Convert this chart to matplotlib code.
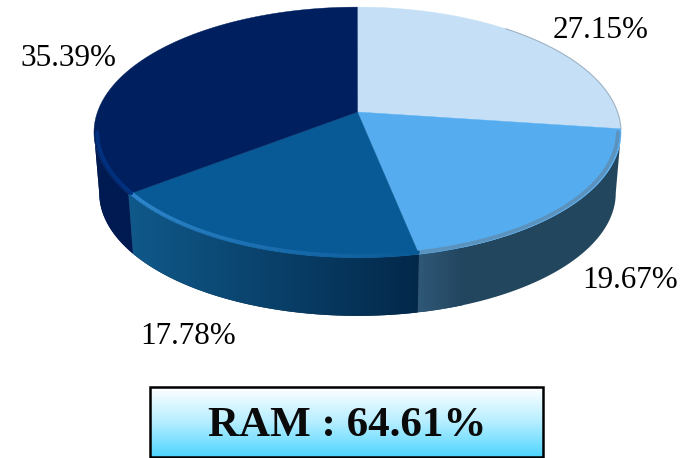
import matplotlib
matplotlib.use("Agg")
import matplotlib.pyplot as plt
import numpy as np
from matplotlib.collections import LineCollection
from matplotlib.colors import LinearSegmentedColormap
from matplotlib.patches import Polygon

percents = [27.15, 19.67, 17.78, 35.39]
labels = ["27.15%", "19.67%", "17.78%", "35.39%"]
top_colors = ["#C5E0F6", "#55ADF0", "#085A96", "#001F5E"]
# side gradients run left to right
side_colors = [("#23465F", "#23465F"), ("#2F5877", "#23465F"), ("#10598A", "#03284A"), ("#001A52", "#001A52")]
rim_colors = [("#8FB0C8", "#8FB0C8"), ("#5C93BE", "#5C93BE"), ("#2F86CC", "#085A96"), ("#00307E", "#00307E")]
ram_text = "RAM : 64.61%"

# pie geometry in pixels, the tilt gives a true perspective look
cx, cy = 357.5, 112
A, S, K = 260, 122, 0.163
DEPTH, SHRINK = 61, 0.98


def project(phi, scale=1.0):
    x = np.sin(phi) * scale
    y = np.cos(phi) * scale
    d = 1 + K * y
    return cx + A * x / d, cy - S * y / d


def arc(p1, p2, scale=1.0, n=120):
    phi = np.linspace(p1, p2, n)
    px, py = project(phi, scale)
    return np.column_stack([px, py])


def lower_arc(p1, p2, n=120):
    pts = arc(p1, p2, n=n)
    pts[:, 0] = cx + (pts[:, 0] - cx) * SHRINK
    pts[:, 1] = cy + DEPTH + (pts[:, 1] - cy) * SHRINK
    return pts


fig = plt.figure(figsize=(6.85, 4.58), dpi=100)
ax = fig.add_axes([0, 0, 1, 1])
ax.set_axis_off()

edges = np.radians(np.cumsum([0] + percents) * 3.6)
vis_lo = np.arccos(-K)
vis_hi = 2 * np.pi - vis_lo

# sides first
for i in range(4):
    p1 = max(edges[i], vis_lo)
    p2 = min(edges[i + 1], vis_hi)
    if p2 <= p1:
        continue
    up = arc(p1, p2)
    low = lower_arc(p1, p2)
    poly = Polygon(np.vstack([up, low[::-1]]), closed=True, fc=side_colors[i][1], ec="none", zorder=1)
    ax.add_patch(poly)
    xs = np.vstack([up, low])
    cmap = LinearSegmentedColormap.from_list("s", side_colors[i])
    grad = np.linspace(0, 1, 256).reshape(1, -1)
    l, r = xs[:, 0].min(), xs[:, 0].max()
    if i == 1:
        # only the part near the seam is lighter
        r = l + 45
    im = ax.imshow(grad, extent=(l, r, xs[:, 1].max(), xs[:, 1].min()), cmap=cmap, aspect="auto", zorder=2)
    im.set_clip_path(poly)

# top surface
for i in range(4):
    pts = np.vstack([[cx, cy], arc(edges[i], edges[i + 1])])
    ax.add_patch(Polygon(pts, closed=True, fc=top_colors[i], ec=top_colors[i], lw=0.3, zorder=3))

# bevel along the front rim
for i in range(4):
    p1 = max(edges[i], vis_lo)
    p2 = min(edges[i + 1], vis_hi)
    if p2 <= p1:
        continue
    pts = arc(p1, p2, scale=0.988, n=80)
    segs = np.stack([pts[:-1], pts[1:]], axis=1)
    cmap = LinearSegmentedColormap.from_list("r", [rim_colors[i][1], rim_colors[i][0]])
    lc = LineCollection(segs, cmap=cmap, array=np.linspace(0, 1, len(segs)), lw=2.6, zorder=4, capstyle="round")
    ax.add_collection(lc)

# outline hint on the back right edge
ax.plot(*arc(np.radians(40), edges[1]).T, color="#9FB3C4", lw=0.8, zorder=4)

label_font = {"family": "Liberation Serif", "fontsize": 22.4, "color": "black"}
ax.text(601, 31, labels[0], ha="center", va="center", **label_font)
ax.text(630, 281, labels[1], ha="center", va="center", **label_font)
ax.text(188, 337, labels[2], ha="center", va="center", **label_font)
ax.text(68, 58, labels[3], ha="center", va="center", **label_font)

# result box
box_cmap = LinearSegmentedColormap.from_list("b", ["#FFFFFF", "#B5EEFF", "#4FD5FF"])
box = Polygon([[150, 387], [543, 387], [543, 457], [150, 457]], closed=True, fc="none", ec="black", lw=1.8, zorder=6)
ax.add_patch(box)
box_im = ax.imshow(np.linspace(0, 1, 128).reshape(-1, 1), extent=(150, 543, 457, 387), cmap=box_cmap, aspect="auto", zorder=5)
ax.text(347, 426, ram_text, ha="center", va="center", family="Liberation Serif",
        fontweight="bold", fontsize=31, color="#0A0A0A", zorder=7)

ax.set_xlim(0, 685)
ax.set_ylim(458, 0)
fig.savefig("out.png", dpi=100)
